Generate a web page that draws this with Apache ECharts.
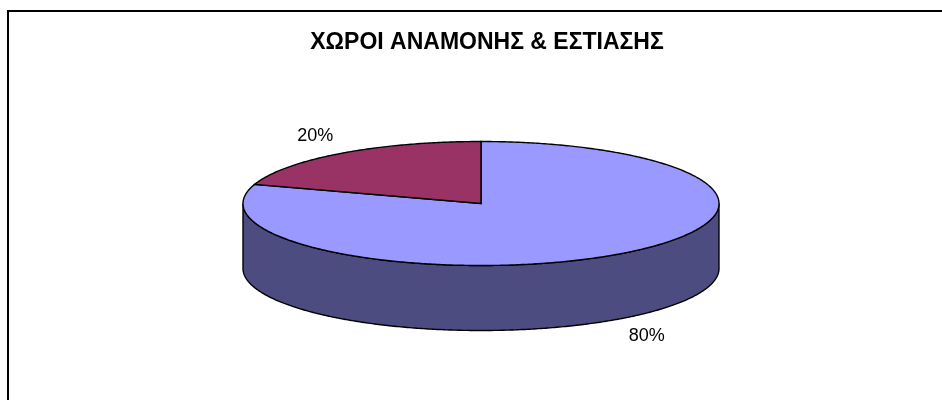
<!DOCTYPE html>
<html>
<head>
<meta charset="utf-8">
<script src="https://cdn.jsdelivr.net/npm/echarts@6/dist/echarts.min.js"></script>
<style>
    html, body { margin: 0; padding: 0; background: #fff; }
    #chart { width: 942px; height: 400px; }
</style>
</head>
<body>
<div id="chart"></div>
<script>
// 数据
const categories = ['Ναι', 'Όχι']
const values = [80, 20]
const titleText = 'ΧΩΡΟΙ ΑΝΑΜΟΝΗΣ & ΕΣΤΙΑΣΗΣ'

// 颜色 顶面 / 侧面
const topColors = ['#9999FF', '#993366']
const sideColors = ['#4C4C80', '#4D1A33']

// 椭圆饼的几何
const PIE = { cx: 481, cy: 203.5, rx: 238, ry: 62, depth: 65 }
const LABEL_GAP = { x: 44, y: 21 }
const FONT = '"Liberation Sans", Arial, sans-serif'

const total = values.reduce((a, b) => a + b, 0)

// 椭圆上的一点
const pt = (t, dy = 0) => [PIE.cx + PIE.rx * Math.cos(t), PIE.cy + PIE.ry * Math.sin(t) + dy]

const arc = (a, b, dy = 0) => {
    const pts = []
    const n = Math.max(2, Math.ceil(Math.abs(b - a) / 0.01))
    for (let i = 0; i <= n; i++) {
        pts.push(pt(a + (b - a) * i / n, dy))
    }
    return pts
}

const renderItem = (params, api) => {
    const i = params.dataIndex
    const v = api.value(1)
    let cum = 0
    for (let k = 0; k < i; k++) cum += values[k]
    // 从12点钟方向开始 顺时针
    const t0 = -Math.PI / 2 + 2 * Math.PI * cum / total
    const t1 = t0 + 2 * Math.PI * v / total
    const children = []

    // 侧面 只画前半圈
    const a = Math.max(t0, 0)
    const b = Math.min(t1, Math.PI)
    if (a < b) {
        const side = arc(a, b).concat(arc(b, a, PIE.depth))
        children.push({
            type: 'polygon',
            z2: 1,
            shape: { points: side },
            style: { fill: sideColors[i], stroke: '#000', lineWidth: 1.4 }
        })
    }

    // 顶面
    const topPts = [[PIE.cx, PIE.cy]].concat(arc(t0, t1))
    children.push({
        type: 'polygon',
        z2: 5,
        shape: { points: topPts },
        style: { fill: topColors[i], stroke: '#000', lineWidth: 1.4 }
    })

    // 百分比标签
    const m = (t0 + t1) / 2
    const s = Math.sin(m)
    const lx = PIE.cx + (PIE.rx + LABEL_GAP.x) * Math.cos(m)
    const ly = PIE.cy + (PIE.ry + LABEL_GAP.y) * s + (s > 0 ? PIE.depth : 0)
    children.push({
        type: 'text',
        z2: 10,
        x: lx,
        y: ly,
        style: {
            text: Math.round(v / total * 100) + '%',
            fill: '#000',
            font: '18px ' + FONT,
            align: 'center',
            verticalAlign: 'middle'
        }
    })

    return { type: 'group', children }
}

const chart = echarts.init(document.getElementById('chart'))

const option = {
    backgroundColor: '#fff',
    animation: false,
    title: {
        text: titleText,
        left: 482,
        top: 26,
        textAlign: 'center',
        textStyle: {
            fontFamily: FONT,
            fontSize: 23,
            fontWeight: 'bold',
            color: '#000'
        }
    },
    graphic: [
        {
            type: 'rect',
            shape: { x: 8, y: 11, width: 960, height: 420 },
            style: { fill: 'none', stroke: '#000', lineWidth: 2 }
        }
    ],
    series: [
        {
            type: 'custom',
            coordinateSystem: 'none',
            renderItem,
            data: categories.map((c, i) => ({ name: c, value: [i, values[i]] }))
        }
    ]
}

chart.setOption(option)
</script>
</body>
</html>
